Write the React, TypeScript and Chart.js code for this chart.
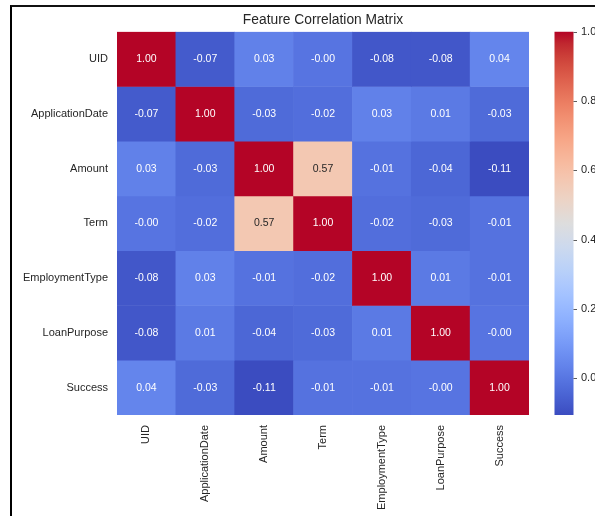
import { useEffect, useRef } from "react";
import { Chart, registerables } from "chart.js";

Chart.register(...registerables);

// Feature names (rows top-to-bottom, columns left-to-right)
const features = [
  "UID",
  "ApplicationDate",
  "Amount",
  "Term",
  "EmploymentType",
  "LoanPurpose",
  "Success",
];

// Pairwise correlation coefficients, one array per row
const corrUID = [1.0, -0.07, 0.03, -0.004, -0.08, -0.08, 0.04];
const corrApplicationDate = [-0.07, 1.0, -0.03, -0.02, 0.03, 0.01, -0.03];
const corrAmount = [0.03, -0.03, 1.0, 0.57, -0.01, -0.04, -0.106];
const corrTerm = [-0.004, -0.02, 0.57, 1.0, -0.02, -0.03, -0.01];
const corrEmploymentType = [-0.08, 0.03, -0.01, -0.02, 1.0, 0.01, -0.01];
const corrLoanPurpose = [-0.08, 0.01, -0.04, -0.03, 0.01, 1.0, -0.004];
const corrSuccess = [0.04, -0.03, -0.106, -0.01, -0.01, -0.004, 1.0];

const matrix = [
  corrUID,
  corrApplicationDate,
  corrAmount,
  corrTerm,
  corrEmploymentType,
  corrLoanPurpose,
  corrSuccess,
];

// Colour bar tick values
const colorbarTicks = [0.0, 0.2, 0.4, 0.6, 0.8, 1.0];

const vmin = Math.min(...matrix.flat());
const vmax = Math.max(...matrix.flat());

const FONT = "'Liberation Sans', Arial, Helvetica, sans-serif";
const TEXT = "#262626";

// Diverging blue-white-red colour map (coolwarm)
const coolwarmStops: number[][] = [
  [59, 76, 192], [68, 90, 204], [77, 104, 215], [87, 117, 225],
  [98, 130, 234], [108, 142, 241], [119, 154, 247], [130, 165, 251],
  [141, 176, 254], [152, 185, 255], [163, 194, 255], [174, 201, 253],
  [184, 208, 249], [194, 213, 244], [204, 217, 238], [213, 219, 230],
  [221, 221, 221], [229, 216, 209], [236, 211, 197], [241, 204, 185],
  [245, 196, 173], [247, 187, 160], [247, 177, 148], [247, 166, 135],
  [244, 154, 123], [241, 141, 111], [236, 127, 99], [229, 112, 88],
  [222, 96, 77], [213, 80, 66], [203, 62, 56], [192, 40, 47],
  [180, 4, 38],
];

function coolwarmRGB(t: number): number[] {
  const c = Math.max(0, Math.min(1, t));
  const pos = c * (coolwarmStops.length - 1);
  const i = Math.min(Math.floor(pos), coolwarmStops.length - 2);
  const f = pos - i;
  const a = coolwarmStops[i];
  const b = coolwarmStops[i + 1];
  return [0, 1, 2].map((k) => Math.round(a[k] + (b[k] - a[k]) * f));
}

function rgbStr(rgb: number[]) {
  return `rgb(${rgb[0]},${rgb[1]},${rgb[2]})`;
}

function cellColor(v: number) {
  return coolwarmRGB((v - vmin) / (vmax - vmin));
}

function luminance(rgb: number[]) {
  const lin = rgb.map((c) => {
    const s = c / 255;
    return s <= 0.03928 ? s / 12.92 : Math.pow((s + 0.055) / 1.055, 2.4);
  });
  return 0.2126 * lin[0] + 0.7152 * lin[1] + 0.0722 * lin[2];
}

// Writes each coefficient in the middle of its cell
const cellLabels = {
  id: "cellLabels",
  afterDatasetsDraw(chart: any) {
    const ctx = chart.ctx;
    ctx.save();
    ctx.font = `10.5px ${FONT}`;
    ctx.textAlign = "center";
    ctx.textBaseline = "middle";
    chart.data.datasets.forEach((_ds: any, i: number) => {
      const meta = chart.getDatasetMeta(i);
      meta.data.forEach((bar: any, j: number) => {
        const v = matrix[i][j];
        const { x, y, base } = bar.getProps(["x", "y", "base"], true);
        ctx.fillStyle = luminance(cellColor(v)) > 0.408 ? TEXT : "#ffffff";
        ctx.fillText(v.toFixed(2), x, (y + base) / 2);
      });
    });
    ctx.restore();
  },
};

// Paints the colour bar next to the "cb" scale and its tick marks
const colorbar = {
  id: "colorbar",
  afterDraw(chart: any) {
    const scale = chart.scales.cb;
    const ctx = chart.ctx;
    const x0 = scale.left + 25.5;
    const w = 19;
    const top = scale.getPixelForValue(vmax);
    const bottom = scale.getPixelForValue(vmin);
    const grad = ctx.createLinearGradient(0, bottom, 0, top);
    const n = coolwarmStops.length - 1;
    coolwarmStops.forEach((c, k) => grad.addColorStop(k / n, rgbStr(c)));
    ctx.save();
    ctx.fillStyle = grad;
    ctx.fillRect(x0, top, w, bottom - top);
    ctx.strokeStyle = "#333333";
    ctx.lineWidth = 0.8;
    scale.ticks.forEach((t: any) => {
      const py = Math.round(scale.getPixelForValue(t.value)) + 0.5;
      ctx.beginPath();
      ctx.moveTo(x0 + w, py);
      ctx.lineTo(x0 + w + 3.5, py);
      ctx.stroke();
    });
    ctx.restore();
  },
};

export default function App() {
  const canvasRef = useRef<HTMLCanvasElement | null>(null);

  useEffect(() => {
    const canvas = canvasRef.current;
    if (!canvas) return;
    const tickFont = { family: FONT, size: 11 };

    const chart = new Chart(canvas, {
      type: "bar",
      data: {
        labels: features,
        datasets: matrix.map((row, i) => ({
          label: features[i],
          data: features.map(() => [i, i + 1]),
          backgroundColor: row.map((v) => rgbStr(cellColor(v))),
          borderWidth: 0,
          grouped: false,
          barPercentage: 1,
          categoryPercentage: 1,
        })),
      } as any,
      options: {
        responsive: false,
        animation: false,
        events: [],
        layout: { padding: 0 },
        plugins: {
          legend: { display: false },
          tooltip: { enabled: false },
          title: {
            display: true,
            text: "Feature Correlation Matrix",
            fullSize: true,
            color: TEXT,
            font: { family: FONT, size: 13.8, weight: "normal" },
            padding: { top: 11.6, bottom: 3.6 },
          },
        },
        scales: {
          x: {
            type: "category",
            offset: true,
            grid: { display: false, drawTicks: false },
            border: { display: false },
            ticks: {
              autoSkip: false,
              minRotation: 90,
              maxRotation: 90,
              padding: 10,
              color: TEXT,
              font: tickFont,
            },
            afterFit: (s: any) => {
              s.height = 145;
            },
          },
          y: {
            type: "linear",
            reverse: true,
            min: 0,
            max: features.length,
            grid: { display: false, drawTicks: false },
            border: { display: false },
            afterBuildTicks: (s: any) => {
              s.ticks = features.map((_f, i) => ({ value: i + 0.5 }));
            },
            ticks: {
              callback: (_v: any, idx: number) => features[idx],
              padding: 9,
              color: TEXT,
              font: tickFont,
            },
            afterFit: (s: any) => {
              s.width = 117;
            },
          },
          cb: {
            axis: "y",
            type: "linear",
            position: "right",
            min: vmin,
            max: vmax,
            // tick space covers the gap and the bar drawn by the plugin
            grid: { display: false, drawTicks: true, tickLength: 49 },
            border: { display: false },
            afterBuildTicks: (s: any) => {
              s.ticks = colorbarTicks.map((v) => ({ value: v }));
            },
            ticks: {
              callback: (v: any) => Number(v).toFixed(1),
              padding: 3,
              color: TEXT,
              font: tickFont,
            },
            afterFit: (s: any) => {
              s.width = 117;
            },
          },
        },
      } as any,
      plugins: [cellLabels, colorbar],
    });

    return () => chart.destroy();
  }, []);

  return (
    <div
      style={{
        position: "fixed",
        left: 0,
        top: 0,
        width: 595,
        height: 516,
        overflow: "hidden",
        background: "#ffffff",
      }}
    >
      <div
        style={{
          position: "absolute",
          left: 10,
          top: 5,
          width: 700,
          height: 600,
          borderTop: "2px solid #111",
          borderLeft: "2px solid #000",
        }}
      />
      <canvas
        ref={canvasRef}
        width={646}
        height={560}
        style={{ position: "absolute", left: 0, top: 0, display: "block" }}
      />
    </div>
  );
}
